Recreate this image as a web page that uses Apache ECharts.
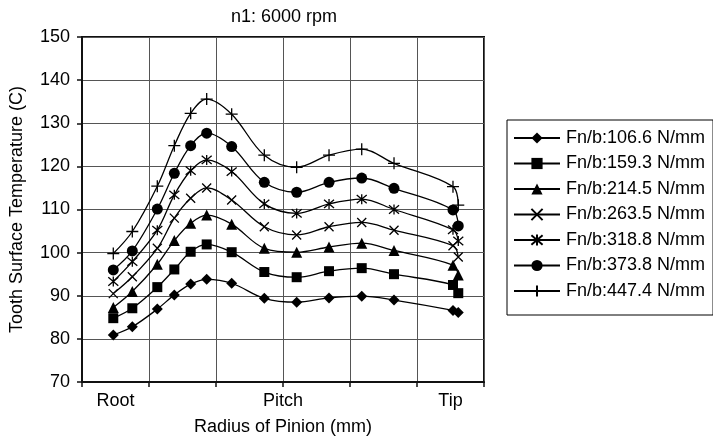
<!DOCTYPE html>
<html>
<head>
<meta charset="utf-8">
<script src="https://cdn.jsdelivr.net/npm/echarts@6/dist/echarts.min.js"></script>
<style>
  html, body { margin: 0; padding: 0; background: #fff; }
  #chart { width: 713px; height: 436px; }
</style>
</head>
<body>
<div id="chart"></div>
<script>
// positions along the pinion radius (axis units: root..tip = 0..6)
const radiusPos = [0.467, 0.751, 1.124, 1.378, 1.622, 1.861, 2.234, 2.721, 3.204, 3.687, 4.175, 4.657, 5.537, 5.616];

const seriesNames = [
  'Fn/b:106.6 N/mm', 'Fn/b:159.3 N/mm', 'Fn/b:214.5 N/mm', 'Fn/b:263.5 N/mm',
  'Fn/b:318.8 N/mm', 'Fn/b:373.8 N/mm', 'Fn/b:447.4 N/mm'
];

const temp106 = [80.9, 82.8, 86.9, 90.2, 92.7, 93.8, 92.9, 89.4, 88.5, 89.5, 89.9, 89.0, 86.6, 86.1];
const temp159 = [84.8, 87.1, 92.0, 96.1, 100.2, 101.9, 100.1, 95.5, 94.3, 95.7, 96.4, 95.0, 92.5, 90.6];
const temp214 = [87.3, 91.0, 97.3, 102.8, 106.8, 108.7, 106.6, 101.0, 100.1, 101.3, 102.2, 100.5, 97.1, 94.8];
const temp263 = [90.5, 94.4, 101.0, 108.0, 112.6, 115.0, 112.2, 106.0, 104.1, 106.0, 107.0, 105.2, 101.6, 99.0];
const temp318 = [93.3, 97.9, 105.2, 113.4, 119.0, 121.5, 118.8, 111.3, 109.1, 111.3, 112.4, 110.0, 105.3, 102.7];
const temp373 = [96.0, 100.4, 110.1, 118.4, 124.8, 127.7, 124.6, 116.3, 114.0, 116.3, 117.3, 114.9, 109.9, 106.2];
const temp447 = [99.8, 104.9, 115.4, 124.8, 132.3, 135.6, 132.1, 122.6, 119.8, 122.6, 124.0, 120.7, 115.3, 111.0];

const xLabelPos = [0.5, 3, 5.5];
const xLabelText = ['Root', 'Pitch', 'Tip'];

const FONT = '"Liberation Sans", Arial, sans-serif';
const FS = 18;

const X_PATH = 'path://M0,0L10,10M10,0L0,10';
const STAR_PATH = 'path://M0,0L10,10M10,0L0,10M5,-1L5,11';
const PLUS_PATH = 'path://M5,0L5,10M0,5L10,5';

const markerDefs = [
  { symbol: 'diamond', size: 11, filled: true },
  { symbol: 'rect', size: 10, filled: true },
  { symbol: 'triangle', size: 11, filled: true },
  { symbol: X_PATH, size: 9, filled: false },
  { symbol: STAR_PATH, size: 10, filled: false },
  { symbol: 'circle', size: 11, filled: true },
  { symbol: PLUS_PATH, size: 12, filled: false },
];

const allTemps = [temp106, temp159, temp214, temp263, temp318, temp373, temp447];

const series = allTemps.map((vals, i) => {
  const m = markerDefs[i];
  return {
    name: seriesNames[i],
    type: 'line',
    data: vals.map((v, k) => [radiusPos[k], v]),
    smooth: 0.35,
    symbol: m.symbol,
    symbolSize: m.size,
    showAllSymbol: true,
    lineStyle: { color: '#000', width: 1.3 },
    itemStyle: m.filled
      ? { color: '#000', borderWidth: 0 }
      : { color: 'rgba(0,0,0,0)', borderColor: '#000', borderWidth: 1.3 },
    emphasis: { disabled: true },
    z: 3,
  };
});

const chart = echarts.init(document.getElementById('chart'), null, { renderer: 'canvas' });
chart.setOption({
  backgroundColor: '#fff',
  animation: false,
  textStyle: { fontFamily: FONT, color: '#000' },
  graphic: [{
    type: 'text', x: 284, y: 8,
    style: { text: 'n1: 6000 rpm', font: FS + 'px ' + FONT, fill: '#000', align: 'center', verticalAlign: 'top' },
  }],
  grid: {
    left: 82, right: 229, top: 37, bottom: 54, outerBoundsMode: 'none',
    show: true, borderColor: '#111', borderWidth: 2, backgroundColor: 'transparent',
  },
  legend: {
    orient: 'vertical',
    left: 507, top: 120,
    padding: [9, 8, 15, 6],
    itemWidth: 46, itemHeight: 14, itemGap: 7.5,
    borderColor: '#000', borderWidth: 1,
    textStyle: { fontFamily: FONT, fontSize: FS, color: '#000', padding: [0, 0, 0, 1] },
    data: seriesNames,
  },
  xAxis: [
    {
      type: 'value', min: 0, max: 6, interval: 1, position: 'bottom',
      axisLine: { lineStyle: { color: '#111', width: 2 } },
      axisTick: { show: true, inside: false, length: 5, lineStyle: { color: '#111', width: 1.5 } },
      axisLabel: { show: false },
      splitLine: { show: true, lineStyle: { color: '#555', width: 1 } },
    },
    {
      type: 'value', min: 0, max: 6, interval: 0.5, position: 'bottom',
      axisLine: { show: false }, axisTick: { show: false }, splitLine: { show: false },
      axisLabel: {
        fontFamily: FONT, fontSize: FS, color: '#000', margin: 10,
        formatter: (v) => { const k = xLabelPos.indexOf(v); return k >= 0 ? xLabelText[k] : ''; },
      },
      name: 'Radius of Pinion (mm)', nameLocation: 'middle', nameGap: 36,
      nameTextStyle: { fontFamily: FONT, fontSize: FS, color: '#000' },
    },
  ],
  yAxis: {
    type: 'value', min: 70, max: 150, interval: 10,
    axisLine: { show: true, lineStyle: { color: '#111', width: 2 } },
    axisTick: { show: true, inside: false, length: 5, lineStyle: { color: '#111', width: 1.5 } },
    axisLabel: { fontFamily: FONT, fontSize: FS, color: '#000', margin: 12 },
    splitLine: { show: true, lineStyle: { color: '#555', width: 1 } },
    name: 'Tooth Surface Temperature (C)', nameLocation: 'middle', nameGap: 56, nameRotate: 90,
    nameTextStyle: { fontFamily: FONT, fontSize: FS, color: '#000' },
  },
  series: series,
});
</script>
</body>
</html>
